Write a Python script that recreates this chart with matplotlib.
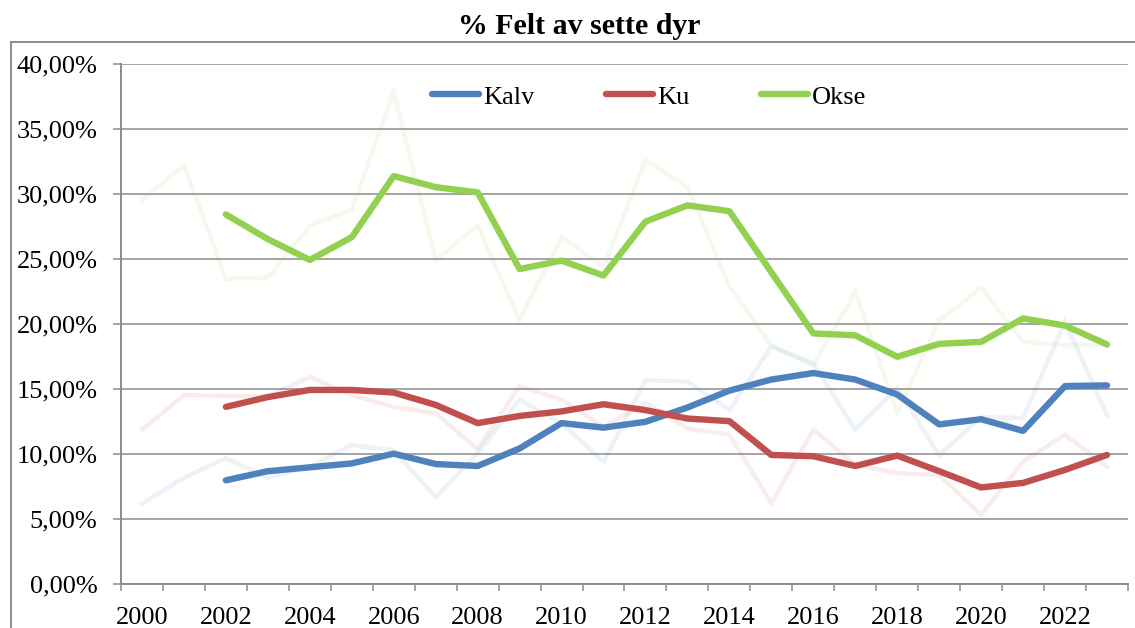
# ══════════════════════════════════════════════════════════════════════════════
#  % Felt av sette dyr  –  yearly share (faint) and 3-year average (bold)
# ══════════════════════════════════════════════════════════════════════════════

import numpy as np
import matplotlib.pyplot as plt
from matplotlib.patches import Rectangle


# ── Data (percent) ────────────────────────────────────────────────────────────

years = list(range(2000, 2024))

# yearly values, 2000–2023
kalv_raw = [6.2, 8.2, 9.7, 8.2, 9.05, 10.7, 10.3, 6.7, 10.1, 14.2, 12.4, 9.4,
            15.7, 15.6, 13.4, 18.3, 17.0, 11.9, 15.1, 9.95, 12.85, 12.8, 20.2, 13.0]
ku_raw   = [11.9, 14.55, 14.5, 14.45, 15.95, 14.55, 13.65, 13.15, 10.4, 15.25, 14.2, 12.1,
            13.95, 12.0, 11.5, 6.25, 11.9, 9.2, 8.55, 8.4, 5.35, 9.45, 11.5, 9.05]
okse_raw = [29.55, 32.25, 23.5, 23.6, 27.6, 28.8, 37.9, 24.95, 27.6, 20.3, 26.7, 24.4,
            32.6, 30.6, 22.9, 18.4, 16.8, 22.5, 13.2, 20.3, 22.8, 18.65, 18.4, 18.4]

# 3-year average, 2002–2023
kalv_avg = [8.0, 8.7, 9.0, 9.3, 10.05, 9.25, 9.1, 10.45, 12.4, 12.05,
            12.5, 13.6, 14.9, 15.75, 16.25, 15.75, 14.6, 12.3, 12.7, 11.8, 15.25, 15.3]
ku_avg   = [13.65, 14.4, 14.95, 14.95, 14.75, 13.8, 12.4, 12.95, 13.3, 13.85,
            13.4, 12.75, 12.55, 9.95, 9.85, 9.1, 9.9, 8.7, 7.45, 7.8, 8.8, 9.95]
okse_avg = [28.45, 26.55, 24.95, 26.7, 31.4, 30.55, 30.15, 24.25, 24.9, 23.75,
            27.9, 29.15, 28.7, 24.0, 19.3, 19.15, 17.5, 18.5, 18.65, 20.45, 19.9, 18.45]

series = [("Kalv", kalv_raw, kalv_avg, "#4F81BD"),
          ("Ku",   ku_raw,   ku_avg,   "#C0504D"),
          ("Okse", okse_raw, okse_avg, "#92D050")]

y_ticks = [0, 5, 10, 15, 20, 25, 30, 35, 40]
year_labels = [str(y) for y in years[::2]]


# ── Style ─────────────────────────────────────────────────────────────────────

grid_col = "#8C8C8C"
serif = ["Liberation Serif", "DejaVu Serif"]
plt.rcParams.update({
    "font.family": serif,
    "font.size":   19,
    "text.color":  "#000000",
})

W, H = 1135, 628
fig = plt.figure(figsize=(W / 100, H / 100), dpi=100, facecolor="white")
ax = fig.add_axes([121 / W, 1 - 584.3 / H, (1128 - 121) / W, (584.3 - 64.3) / H])

# outer chart frame (runs off the right / bottom edge)
fig.patches.append(Rectangle((11 / W, -0.2), 1.2, 1.2 - 42 / H,
                             transform=fig.transFigure, fill=False,
                             ec=grid_col, lw=1.4, zorder=0))

x_raw = np.arange(len(years))
x_avg = x_raw[2:]

# ── Lines ─────────────────────────────────────────────────────────────────────

for name, raw, avg, col in series:
    ax.plot(x_raw, raw, color=col, lw=3.2, alpha=0.10,
            solid_joinstyle="miter", zorder=2)

for name, raw, avg, col in series:
    ax.plot(x_avg, avg, color=col, lw=4.6, label=name,
            solid_capstyle="round", solid_joinstyle="round", zorder=3)

# ── Axes ──────────────────────────────────────────────────────────────────────

ax.set_xlim(-0.5, len(years) - 0.5)
ax.set_ylim(0, 40)

ax.set_yticks(y_ticks)
ax.set_yticklabels([f"{v:.2f}".replace(".", ",") + "%" for v in y_ticks])
ax.grid(True, axis="y", color=grid_col, lw=1.1)
ax.set_axisbelow(True)

ax.set_xticks(np.arange(-0.5, len(years), 1))
ax.set_xticklabels([])
ax.set_xticks(x_raw[::2], minor=True)
ax.set_xticklabels(year_labels, minor=True)

ax.tick_params(axis="y", length=6, width=1.1, color=grid_col, pad=11)
ax.tick_params(axis="x", which="major", length=5, width=1.1, color=grid_col)
ax.tick_params(axis="x", which="minor", length=0, pad=16)

ax.spines[["top", "right"]].set_visible(False)
for s in ("left", "bottom"):
    ax.spines[s].set_color(grid_col)
    ax.spines[s].set_linewidth(1.4)

# ── Legend & title ────────────────────────────────────────────────────────────

fig.legend(loc="center", bbox_to_anchor=(649 / W, 1 - 97 / H),
           ncol=3, frameon=False, handlelength=1.8, handletextpad=0.15,
           columnspacing=2.7, fontsize=19)

fig.text(579 / W, 1 - 26 / H, "% Felt av sette dyr", ha="center", va="center",
         fontsize=21.5, fontweight="bold",
         family=["Liberation Serif", "DejaVu Serif"])

fig.savefig("out.png", dpi=100, facecolor="white")
